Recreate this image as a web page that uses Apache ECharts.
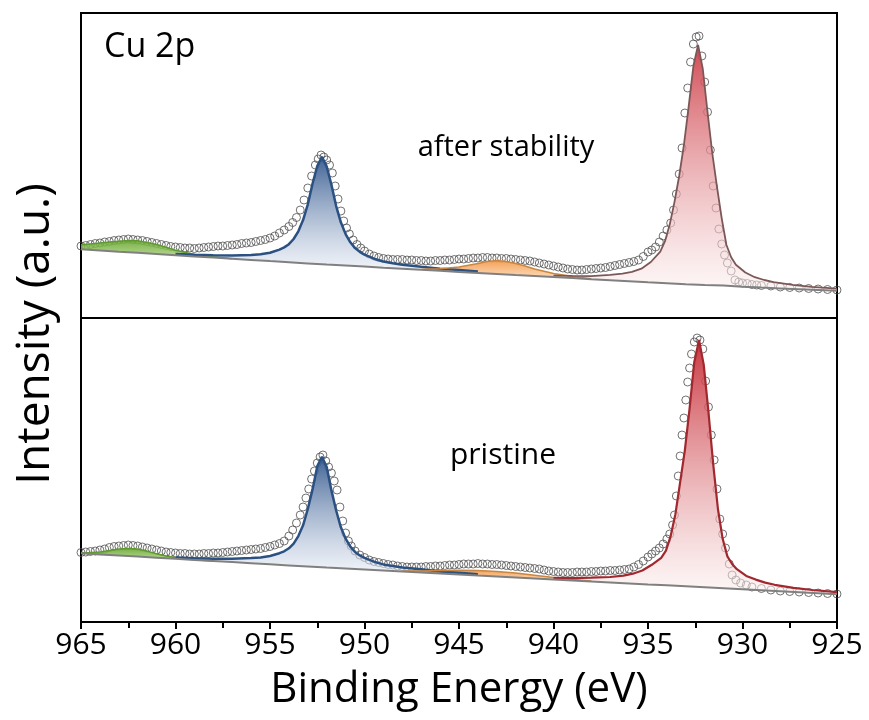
<!DOCTYPE html>
<html><head><meta charset="utf-8">
<script src="https://cdn.jsdelivr.net/npm/echarts@6/dist/echarts.min.js"></script>
<style>html,body{margin:0;padding:0;background:#fff}#c{width:869px;height:720px}</style>
</head><body><div id="c"></div>
<script>
// ---------- DATA (binding energy in eV, intensity in arbitrary units) ----------
const baseX = [965,964,963,962,961,960,959,958,957,956,955,954,953,952,951,950,949,948,947,946,945,944,943,942,941,940,939,938,937,936,935,934,933,932,931,930,929,928,927,926,925];

// after stability (top panel)
const topBase = [68.7,67.5,66.3,65.2,64.0,62.8,61.6,60.5,59.3,58.1,56.9,55.8,54.6,53.4,52.4,51.4,50.3,49.3,48.2,47.2,46.1,45.1,44.1,43.0,42.0,40.9,39.9,38.8,37.8,36.8,35.7,34.7,33.7,33.0,32.5,31.3,30.4,29.6,28.8,28.0,27.2];
const topGreenX = [965,964.5,964,963.5,963,962.5,962,961.5,961,960.5,960,959,958,957];
const topGreenY = [73.2,74.1,75.0,75.9,76.8,77.5,77.2,75.6,73.5,70.7,67.8,63.6,61.2,59.3];
const blueX = [960,959,958,957,956,955.5,955,954.5,954.25,954,953.75,953.5,953.25,953,952.75,952.5,952.25,952,951.75,951.5,951.25,951,950.75,950.5,950.25,950,949.5,949,948.5,948,947,946,945,944];
const topBlueY = [64.1,63.3,62.7,62.4,63.0,63.7,65.3,68.4,70.6,73.8,79.0,86.7,97.9,113.6,134.3,152.0,161.3,151.4,133.2,111.9,95.7,83.9,75.7,69.9,66.2,63.4,59.3,56.5,54.7,53.3,51.2,49.3,47.9,46.4];
const topOrangeX = [947,946,945,944,943.5,943,942.5,942,941.5,941,940,939,938];
const topOrangeY = [48.7,49.2,51.1,54.6,56.6,57.5,56.5,54.5,52.0,49.0,44.4,41.4,39.3];
const topRedX = [940,939,938,937,936.35,935.85,935.35,934.85,934.35,934.1,933.85,933.6,933.35,933.1,932.85,932.6,932.35,932.1,931.85,931.6,931.35,931.1,930.85,930.6,930.35,929.85,929.35,928.85,928.35,927.35,926.35,925];
const topRedY = [42.4,42.1,41.9,43.1,44.4,46.2,49.3,56.0,66.3,76.8,93.4,115.9,142.0,173.0,211.1,251.7,273.0,249.0,205.8,165.0,131.2,99.7,73.0,60.7,53.3,45.5,40.8,38.0,35.9,33.2,31.2,29.4];
const topDataX = [965,964.75,964.5,964.25,964,963.75,963.5,963.25,963,962.75,962.5,962.25,962,961.75,961.5,961.25,961,960.75,960.5,960.25,960,959.75,959.5,959.25,959,958.75,958.5,958.25,958,957.75,957.5,957.25,957,956.75,956.5,956.25,956,955.75,955.5,955.25,955,954.75,954.5,954.25,954,
953.8,953.6,953.4,953.2,953,952.8,952.6,952.45,952.3,952.15,952,951.85,951.7,951.55,951.4,951.25,951.1,950.95,950.8,950.6,950.4,950.2,
950,949.75,949.5,949.25,949,948.75,948.5,948.25,948,947.75,947.5,947.25,947,946.75,946.5,946.25,946,945.75,945.5,945.25,945,944.75,944.5,944.25,944,943.75,943.5,943.25,943,942.75,942.5,942.25,942,941.75,941.5,941.25,941,940.75,940.5,940.25,940,939.75,939.5,939.25,939,938.75,938.5,938.25,938,937.75,937.5,937.25,937,936.75,936.5,936.25,936,935.75,935.5,935.25,935,
934.8,934.6,934.4,934.2,934,933.8,933.65,933.5,933.35,933.2,933.05,932.9,932.75,932.6,932.45,932.3,932.15,932,931.85,931.7,931.55,931.4,931.25,931.1,930.95,930.8,930.6,930.4,930.2,930,929.75,929.5,929.25,929,928.5,928,927.5,927,926.5,926,925.5,925];
const topDataY = [72,72.5,73.5,74.5,75,76,76.5,77.5,78,78.5,79,78.5,78,77.5,76.5,75.5,74.5,73.5,72.5,71.5,71,70.5,70,70,69.5,70,70.5,71,71.5,72,72,72.5,73,73.5,74.5,75,75.5,76.5,77.5,78.5,80,82,85,88,91.5,
95.5,100.5,108,118,130,142,153,159,163,161,158,153,145,132,119,107,97,90,84,78,73.5,70,
67,64,62,60.5,59.5,59,58.5,58.5,58.5,58,58,57.5,57.5,57,57,57.5,57.5,58,58,58.5,59,59,59.5,60,60,60.5,60.5,60,60,59.5,59.5,59,58.5,58,57.5,57,56,55,54,53,52,51,50,49,48.5,48,48,48.5,49,49.5,50,50.5,51.5,52.5,53.5,54.5,55.5,56.5,58,61.5,66,
68,71,76,82,88,95,108,124,144,170,205,230,256,274,281,282,262,236,206,168,132,110,89,74,63,55,47,38,36,35,34.5,33.5,33,32.5,32,31,30.5,30,29.5,29,28.5,28];

// pristine (bottom panel)
const botBase = [68.7,67.6,66.5,65.4,64.3,63.2,62.1,61.0,59.9,58.8,57.7,56.6,55.5,54.4,53.5,52.5,51.5,50.5,49.5,48.5,47.5,46.5,45.6,44.6,43.6,42.6,41.6,40.6,39.6,38.6,37.6,36.7,35.7,34.7,33.7,32.7,31.7,30.7,29.7,28.7,27.7];
const botGreenX = [965,964.5,964,963.5,963,962.5,962,961.5,961,960.5,960,959,958];
const botGreenY = [69.2,69.4,70.1,71.6,73.0,73.5,72.9,70.9,68.3,66.0,64.2,62.3,61.0];
const botBlueY = [64.5,63.8,63.2,63.2,63.9,64.4,66.0,68.8,70.7,73.7,78.4,85.9,96.7,113.0,132.6,155.6,165.2,155.0,131.6,111.5,94.7,83.3,75.4,70.1,66.6,64.1,60.3,57.6,56.1,54.6,52.8,50.5,49.3,47.8];
const botOrangeX = [948,947,946,945,944,943,942,941,940,939,938];
const botOrangeY = [51.0,51.0,51.5,51.8,51.5,50.6,48.9,46.8,44.6,42.6,40.9];
const botRedX = [940,939,938,937,936.3,935.8,935.3,934.8,934.3,934.05,933.8,933.55,933.3,933.05,932.8,932.55,932.3,932.05,931.8,931.55,931.3,931.05,930.8,930.55,930.3,929.8,929.3,928.8,928.3,927.3,926.3,925];
const botRedY = [44.1,43.8,44.3,45.0,46.3,48.3,51.5,57.2,64.1,71.4,85.9,107.8,139.7,171.7,213.3,260.1,282.0,257.1,209.9,157.8,113.0,83.2,65.6,58.0,52.8,46.1,42.4,39.4,37.2,34.2,32.0,29.9];
const botDataX = [965,964.75,964.5,964.25,964,963.75,963.5,963.25,963,962.75,962.5,962.25,962,961.75,961.5,961.25,961,960.75,960.5,960.25,960,959.75,959.5,959.25,959,958.75,958.5,958.25,958,957.75,957.5,957.25,957,956.75,956.5,956.25,956,955.75,955.5,955.25,955,954.75,954.5,954.25,954,
953.8,953.6,953.4,953.25,953.1,952.95,952.8,952.65,952.5,952.35,952.2,952.05,951.9,951.75,951.6,951.45,951.3,951.15,951,950.85,950.7,950.5,950.25,
950,949.75,949.5,949.25,949,948.75,948.5,948.25,948,947.75,947.5,947.25,947,946.75,946.5,946.25,946,945.75,945.5,945.25,945,944.75,944.5,944.25,944,943.75,943.5,943.25,943,942.75,942.5,942.25,942,941.75,941.5,941.25,941,940.75,940.5,940.25,940,939.75,939.5,939.25,939,938.75,938.5,938.25,938,937.75,937.5,937.25,937,936.75,936.5,936.25,936,935.75,935.5,935.25,935,
934.8,934.6,934.4,934.2,934,933.85,933.7,933.6,933.5,933.4,933.3,933.2,933.1,933,932.9,932.8,932.7,932.55,932.4,932.25,932.1,931.95,931.8,931.65,931.5,931.35,931.2,931.05,930.9,930.7,930.55,930.35,930.1,929.8,929.5,929,928.5,928,927.5,927,926.5,926,925.5,925];
const botDataY = [69.5,70,70.5,71,72,73,74.5,75.5,76,76.5,77,76.5,76,75,74,73,72,71,70,69.5,69,68.5,68.5,68,68,68,68.5,68.5,69,69,69.5,70,70.5,71,71.5,72,72.5,73,73.5,74.5,75.5,77,78.5,81,86,
92,99,107,115,124,133,143,151,159,165,167,161,155,149,141,132,115,101,89,81,76,71,67,
64.5,62,60.5,59.5,58.5,57.5,57,56,55.5,55,55,55,55,55.5,55.5,56,56,56.5,57,57,57.5,58,58,58,58.5,58,58,57.5,57.5,57,56.5,56,55.5,55,54.5,54,53.5,53,52,51,50.5,50,49.5,49.5,49.5,50,50,50,50.5,50.5,51,51,51.5,51.5,52,52.5,53,55,57.5,61,65,
68,71,74,78,83,88,97,107,126,146,166,187,204,222,240,254,268,280,284,282,273,241,215,187,162,133,103,88,74,58,47,42,39,37,35,33.5,32,31,30.5,30,29.5,29,28.5,28];

const xTicks = [965,960,955,950,945,940,935,930,925];

// ---------- CHART ----------
const chart = echarts.init(document.getElementById('c'), null, {renderer: 'canvas'});
const zip = (xs, ys) => xs.map((x, i) => [x, ys[i]]);
const grad = (c1, c2) => new echarts.graphic.LinearGradient(0, 0, 0, 1, [{offset: 0, color: c1}, {offset: 1, color: c2}]);

function fillSeries(g, xs, ys, base, c1, c2) {
  return {
    type: 'custom', xAxisIndex: g, yAxisIndex: g, z: 3, silent: true,
    data: [[xs[0], ys[0]]],
    encode: {x: 0, y: 1},
    renderItem: function (params, api) {
      const i0 = baseX.indexOf(xs[0]);
      const i1 = baseX.indexOf(xs[xs.length - 1]);
      const pts = [api.coord([xs[0], base[i0]])];
      for (let k = 0; k < xs.length; k++) pts.push(api.coord([xs[k], ys[k]]));
      pts.push(api.coord([xs[xs.length - 1], base[i1]]));
      return {type: 'polygon', shape: {points: pts}, style: {fill: grad(c1, c2)}};
    }
  };
}
function lineSeries(g, xs, ys, color, w, z) {
  return {type: 'line', xAxisIndex: g, yAxisIndex: g, data: zip(xs, ys), showSymbol: false, silent: true,
    z: z || 4, lineStyle: {color: color, width: w}, animation: false};
}
function dataSeries(g, xs, ys) {
  return {type: 'scatter', xAxisIndex: g, yAxisIndex: g, data: zip(xs, ys), symbol: 'circle', symbolSize: 8, z: 2, silent: true,
    itemStyle: {color: 'rgba(255,255,255,0)', borderColor: '#4f4f4f', borderWidth: 1}};
}

const lab = {fontFamily: '"Liberation Sans Narrow", "Open Sans", sans-serif', fontSize: 30, color: '#000'};

const option = {
  animation: false,
  backgroundColor: '#fff',
  grid: [
    {left: 81, right: 32, top: 13, height: 305, show: true, borderColor: '#000', borderWidth: 2, backgroundColor: 'transparent'},
    {left: 81, right: 32, top: 318, height: 304, show: true, borderColor: '#000', borderWidth: 2, backgroundColor: 'transparent'}
  ],
  xAxis: [
    {gridIndex: 0, type: 'value', min: 925, max: 965, interval: 5, inverse: true, show: false},
    {gridIndex: 1, type: 'value', min: 925, max: 965, interval: 5, inverse: true,
      axisLine: {show: true, lineStyle: {color: '#000', width: 2}},
      axisTick: {show: true, length: 7, lineStyle: {color: '#000', width: 2}},
      minorTick: {show: true, splitNumber: 2, length: 6, lineStyle: {color: '#000', width: 2}},
      splitLine: {show: false},
      axisLabel: Object.assign({margin: 8, formatter: v => (xTicks.indexOf(v) >= 0 ? String(v) : '')}, lab),
      name: 'Binding Energy (eV)', nameLocation: 'middle', nameGap: 47,
      nameTextStyle: {fontFamily: '"Open Sans", sans-serif', fontSize: 42, color: '#000'}
    }
  ],
  yAxis: [
    {gridIndex: 0, type: 'value', min: 0, max: 305, show: false},
    {gridIndex: 1, type: 'value', min: 0, max: 304, show: false}
  ],
  graphic: [
    {type: 'text', left: 104, top: 30, style: {text: 'Cu 2p', fontFamily: '"Open Sans", sans-serif', fontSize: 34, fill: '#000'}},
    {type: 'text', x: 506, y: 148, style: {text: 'after stability', fontFamily: '"Open Sans", sans-serif', fontSize: 29, fill: '#000', align: 'center', verticalAlign: 'middle'}},
    {type: 'text', x: 503, y: 455, style: {text: 'pristine', fontFamily: '"Open Sans", sans-serif', fontSize: 30, fill: '#000', align: 'center', verticalAlign: 'middle'}},
    {type: 'text', x: 36, y: 334, rotation: Math.PI / 2, style: {text: 'Intensity (a.u.)', fontFamily: '"Open Sans", sans-serif', fontSize: 46, fill: '#000', align: 'center', verticalAlign: 'middle'}}
  ],
  series: [
    dataSeries(0, topDataX, topDataY),
    fillSeries(0, topGreenX, topGreenY, topBase, 'rgba(105,168,50,0.9)', 'rgba(165,208,115,0.75)'),
    fillSeries(0, blueX, topBlueY, topBase, 'rgba(48,86,140,0.93)', 'rgba(232,237,246,0.55)'),
    fillSeries(0, topOrangeX, topOrangeY, topBase, 'rgba(242,150,70,0.9)', 'rgba(251,210,165,0.75)'),
    fillSeries(0, topRedX, topRedY, topBase, 'rgba(205,62,72,0.93)', 'rgba(252,240,240,0.55)'),
    lineSeries(0, topGreenX, topGreenY, '#5e9a30', 1.5),
    lineSeries(0, blueX, topBlueY, '#2a5182', 2.5),
    lineSeries(0, topOrangeX, topOrangeY, '#c98640', 1.5),
    lineSeries(0, topRedX, topRedY, '#7c5757', 1.8),
    lineSeries(0, baseX, topBase, '#808080', 2, 5),

    dataSeries(1, botDataX, botDataY),
    fillSeries(1, botGreenX, botGreenY, botBase, 'rgba(105,168,50,0.9)', 'rgba(165,208,115,0.75)'),
    fillSeries(1, blueX, botBlueY, botBase, 'rgba(48,86,140,0.93)', 'rgba(232,237,246,0.55)'),
    fillSeries(1, botOrangeX, botOrangeY, botBase, 'rgba(242,150,70,0.9)', 'rgba(251,210,165,0.75)'),
    fillSeries(1, botRedX, botRedY, botBase, 'rgba(198,40,50,0.93)', 'rgba(252,240,240,0.55)'),
    lineSeries(1, botGreenX, botGreenY, '#5e9a30', 1.5),
    lineSeries(1, blueX, botBlueY, '#2a5182', 2.5),
    lineSeries(1, botOrangeX, botOrangeY, '#c98640', 1.5),
    lineSeries(1, botRedX, botRedY, '#a0282e', 2.2),
    lineSeries(1, baseX, botBase, '#808080', 2, 5)
  ]
};
chart.setOption(option);
</script>
</body></html>
